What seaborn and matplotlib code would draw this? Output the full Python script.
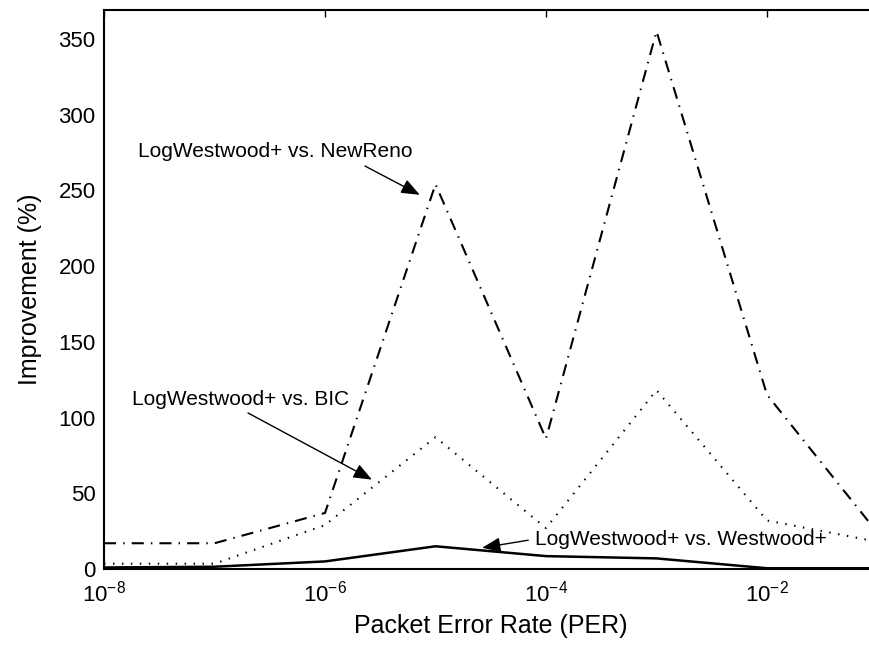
import numpy as np
import pandas as pd
import seaborn as sns
import matplotlib
matplotlib.use("Agg")
import matplotlib.pyplot as plt

per = [1e-8, 1e-7, 1e-6, 1e-5, 1e-4, 1e-3, 1e-2, 1e-1]
vs_newreno = [17, 17, 37, 254, 86, 355, 115, 24]
vs_bic = [3.5, 3.5, 29, 87, 27, 118, 32, 18]
vs_westwood = [1, 1.5, 5, 15, 8.5, 7, 0.5, 0.5]

series_names = ["LogWestwood+ vs. NewReno", "LogWestwood+ vs. BIC",
                "LogWestwood+ vs. Westwood+"]

df = pd.concat([
    pd.DataFrame({"PER": per, "Improvement": vs_newreno, "series": series_names[0]}),
    pd.DataFrame({"PER": per, "Improvement": vs_bic, "series": series_names[1]}),
    pd.DataFrame({"PER": per, "Improvement": vs_westwood, "series": series_names[2]}),
])

sns.set_theme(style="white")
plt.rcParams['font.family'] = ['Liberation Sans', 'DejaVu Sans']
plt.rcParams['mathtext.fontset'] = 'custom'
plt.rcParams['mathtext.rm'] = 'Liberation Sans'
plt.rcParams['text.color'] = 'black'
plt.rcParams['axes.labelcolor'] = 'black'

fig = plt.figure(figsize=(8.69, 6.53), dpi=100)
ax = fig.add_axes([104/869, 84/653, (877.5-104)/869, (569-10)/653])

styles = {
    series_names[0]: dict(ls=(0, (5.8, 3.4, 0.7, 3.4)), lw=1.5),
    series_names[1]: dict(ls=(0, (0.7, 3.6)), lw=1.5),
    series_names[2]: dict(ls="-", lw=1.8),
}
for name in series_names:
    sub = df[df["series"] == name]
    sns.lineplot(data=sub, x="PER", y="Improvement", ax=ax, color="black",
                 linestyle=styles[name]["ls"], linewidth=styles[name]["lw"],
                 legend=False)

ax.set_xscale("log")
ax.set_xlim(1e-8, 1e-1)
ax.set_ylim(0, 369)
ax.set_xticks([1e-8, 1e-6, 1e-4, 1e-2])
ax.set_xticklabels([r"$\mathregular{10^{-8}}$", r"$\mathregular{10^{-6}}$",
                    r"$\mathregular{10^{-4}}$", r"$\mathregular{10^{-2}}$"])
ax.xaxis.set_minor_locator(matplotlib.ticker.NullLocator())
ax.set_yticks([0, 50, 100, 150, 200, 250, 300, 350])

ax.tick_params(axis="both", which="major", direction="in", length=5, width=1,
               top=True, right=True, labelsize=16, colors="black")
ax.tick_params(axis="x", which="major", pad=8)
ax.tick_params(axis="y", which="major", pad=6)
for s in ax.spines.values():
    s.set_linewidth(1.5)
    s.set_color("black")

ax.set_xlabel("Packet Error Rate (PER)", fontsize=18, labelpad=6)
ax.set_ylabel("Improvement (%)", fontsize=18, labelpad=12)

arrowprops = dict(arrowstyle="-|>,head_length=0.75,head_width=0.3", color="black",
                  lw=1.0, shrinkA=0, shrinkB=0, mutation_scale=15)
ax.annotate("", xy=(7.2e-6, 247), xytext=(2.3e-6, 266), arrowprops=arrowprops)
ax.text(2.03e-8, 272, series_names[0], fontsize=15, ha="left", va="baseline")

ax.annotate("", xy=(2.66e-6, 59), xytext=(2.01e-7, 103), arrowprops=arrowprops)
ax.text(1.79e-8, 108, series_names[1], fontsize=15, ha="left", va="baseline")

ax.annotate("", xy=(2.64e-5, 14), xytext=(6.9e-5, 19), arrowprops=arrowprops)
ax.text(7.94e-5, 16, series_names[2], fontsize=15, ha="left", va="baseline")

fig.savefig("out.png", dpi=100)
